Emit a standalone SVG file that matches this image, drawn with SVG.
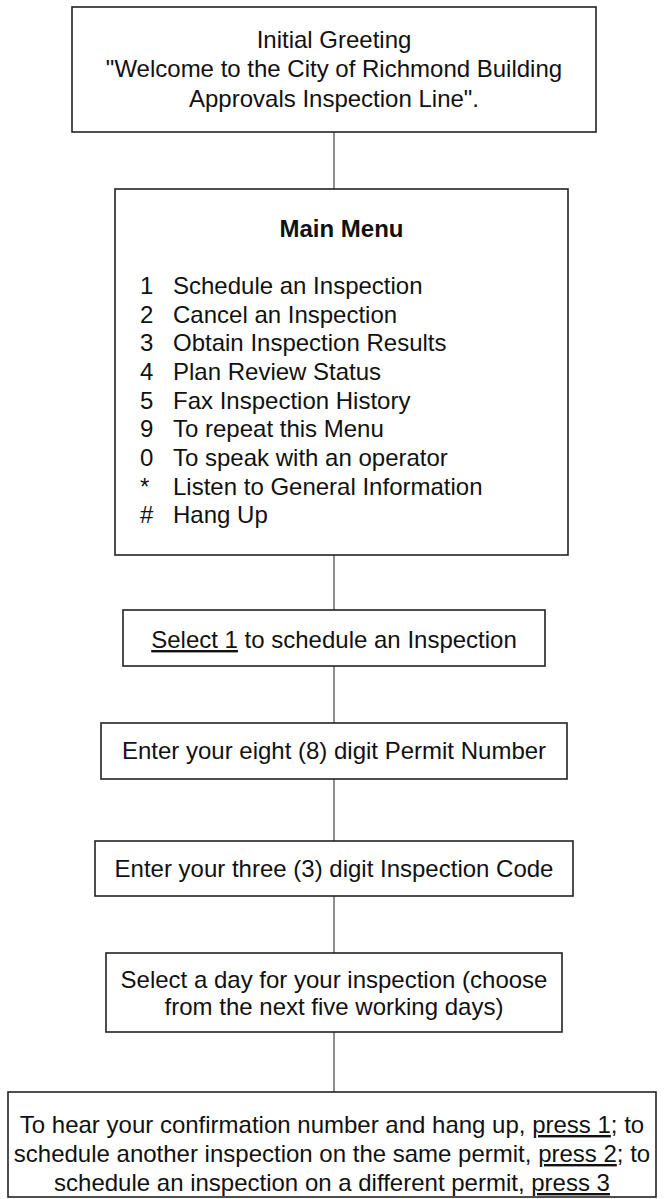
<svg xmlns="http://www.w3.org/2000/svg" width="664" height="1199" viewBox="0 0 664 1199">
<style>
.box{fill:#fff;stroke:#222;stroke-width:1.6}
.t{font-family:"Liberation Sans",Arial,sans-serif;font-size:24px;fill:#111}
.c{text-anchor:middle}
.b{font-weight:bold}
.u{text-decoration:underline}
.con line{stroke:#333;stroke-width:1.1}
</style>
<rect width="664" height="1199" fill="#fff"/>
<g class="con">
<line x1="334" y1="132" x2="334" y2="189"/>
<line x1="334" y1="555" x2="334" y2="610"/>
<line x1="334" y1="666" x2="334" y2="723"/>
<line x1="334" y1="779" x2="334" y2="841"/>
<line x1="334" y1="896" x2="334" y2="953"/>
<line x1="334" y1="1032" x2="334" y2="1092"/>
</g>
<g id="greeting">
<rect class="box" x="72" y="7" width="524" height="125"/>
<text class="t c" x="334" y="48">Initial Greeting</text>
<text class="t c" x="334" y="77">"Welcome to the City of Richmond Building</text>
<text class="t c" x="334" y="107">Approvals Inspection Line".</text>
</g>
<g id="mainmenu">
<rect class="box" x="115" y="189" width="453" height="366"/>
<text class="t c b" x="341.5" y="237">Main Menu</text>
<text class="t" x="140" y="294">1</text><text class="t" x="173" y="294">Schedule an Inspection</text>
<text class="t" x="140" y="322.7">2</text><text class="t" x="173" y="322.7">Cancel an Inspection</text>
<text class="t" x="140" y="351.3">3</text><text class="t" x="173" y="351.3">Obtain Inspection Results</text>
<text class="t" x="140" y="380">4</text><text class="t" x="173" y="380">Plan Review Status</text>
<text class="t" x="140" y="408.6">5</text><text class="t" x="173" y="408.6">Fax Inspection History</text>
<text class="t" x="140" y="437.3">9</text><text class="t" x="173" y="437.3">To repeat this Menu</text>
<text class="t" x="140" y="465.9">0</text><text class="t" x="173" y="465.9">To speak with an operator</text>
<text class="t" x="140" y="494.6">*</text><text class="t" x="173" y="494.6">Listen to General Information</text>
<text class="t" x="140" y="523.2">#</text><text class="t" x="173" y="523.2">Hang Up</text>
</g>
<g id="select1">
<rect class="box" x="123" y="610" width="422" height="56"/>
<text class="t c" x="334" y="648">
<tspan class="u">Select 1</tspan> to schedule an Inspection</text>
</g>
<g id="permit">
<rect class="box" x="101" y="723" width="466" height="56"/>
<text class="t c" x="334" y="759">Enter your eight (8) digit Permit Number</text>
</g>
<g id="code">
<rect class="box" x="95" y="841" width="478" height="55"/>
<text class="t c" x="334" y="877">Enter your three (3) digit Inspection Code</text>
</g>
<g id="day">
<rect class="box" x="106" y="953" width="456" height="79"/>
<text class="t c" x="334" y="988">Select a day for your inspection (choose</text>
<text class="t c" x="334" y="1015">from the next five working days)</text>
</g>
<g id="final">
<rect class="box" x="8" y="1092" width="648" height="105"/>
<text class="t c" x="332" y="1133">To hear your confirmation number and hang up, <tspan class="u">press 1</tspan>; to</text>
<text class="t c" x="332" y="1162">schedule another inspection on the same permit, <tspan class="u">press 2</tspan>; to</text>
<text class="t c" x="332" y="1191">schedule an inspection on a different permit, <tspan class="u">press 3</tspan></text>
</g>
</svg>
